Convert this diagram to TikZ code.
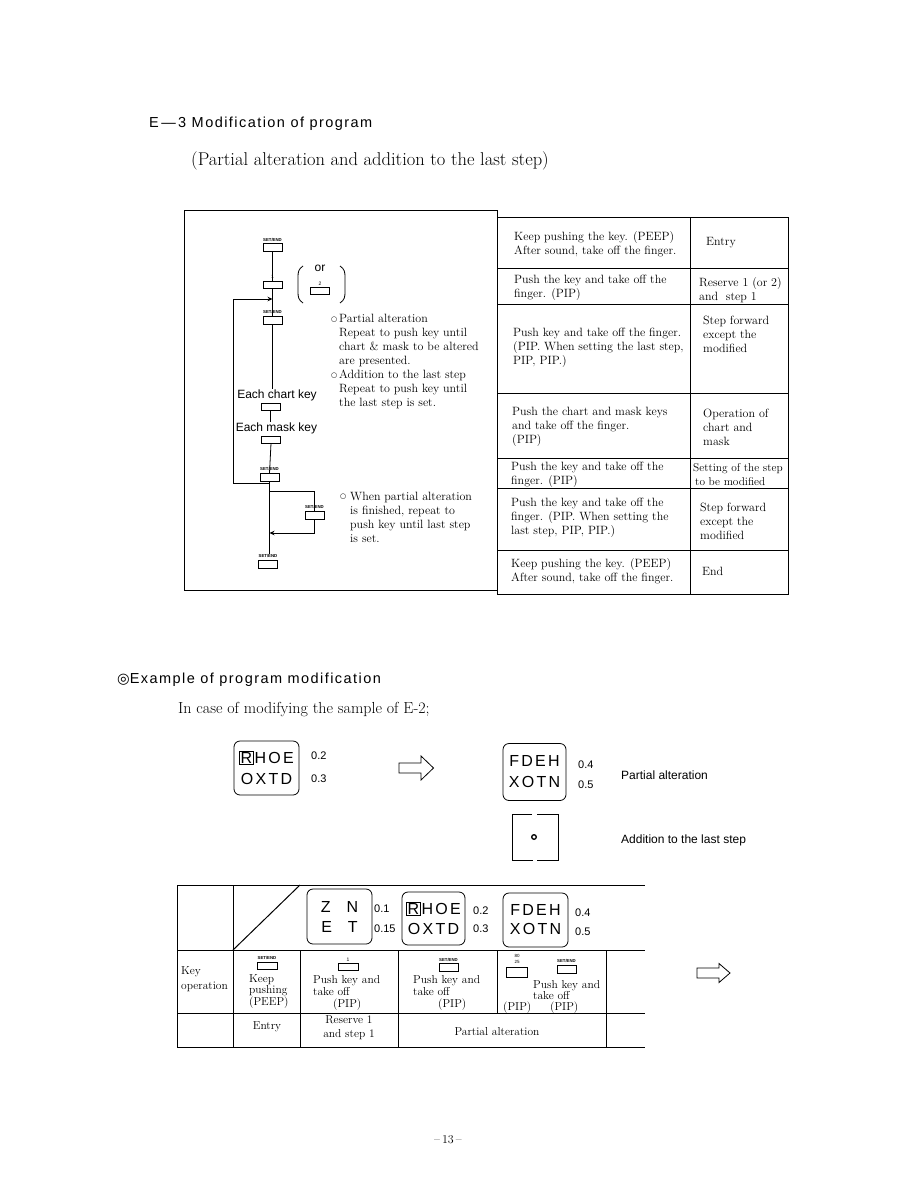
\documentclass[tikz,border=0pt]{standalone}
\usepackage{fontspec}
\usetikzlibrary{arrows.meta}
\newfontfamily\sansf{Liberation Sans}
\newfontfamily\headf[LetterSpace=10]{Liberation Sans}
\newfontfamily\dispf[LetterSpace=14]{Liberation Sans}
\newfontfamily\djv{DejaVu Sans}
\newcommand\rbx{{\setlength\fboxsep{0.8pt}\setlength\fboxrule{0.7pt}\fbox{\sansf R}}\kern1pt}
\newcommand\opc{\raisebox{1.2pt}{\djv\fontsize{7}{7}\selectfont ○}}
\tikzset{
  tbl/.style={line width=1pt},
  conn/.style={line width=0.8pt},
  arr/.style={conn, -{Stealth[length=5pt,width=4.5pt]}},
  keyb/.style={draw, line width=0.7pt, minimum width=19pt, minimum height=8pt, inner sep=0pt},
  klab/.style={font=\sansf\bfseries\fontsize{4.3}{5}\selectfont, inner sep=0pt},
  cell/.style={font=\fontsize{12}{14}\selectfont, align=left, anchor=west, inner sep=0pt},
  tcell/.style={font=\fontsize{11.5}{11.8}\selectfont, align=left, anchor=west, inner sep=0pt},
  flowlbl/.style={font=\sansf\fontsize{12}{14}\selectfont, inner sep=0pt},
  slbl/.style={font=\sansf\fontsize{12}{14}\selectfont, inner sep=0pt, anchor=west},
  disp/.style={draw, line width=0.8pt, rounded corners=6pt, inner sep=0pt, align=center,
               font=\dispf\fontsize{16}{21}\selectfont},
  num/.style={font=\sansf\fontsize{11}{13}\selectfont, anchor=west, inner sep=0pt},
}
\begin{document}
\begin{tikzpicture}[x=1pt,y=-1pt]
\fill[white] (0,0) rectangle (918,1188);
\useasboundingbox (0,0) rectangle (918,1188);

% ---------- headings ----------
\node[anchor=west, font=\headf\fontsize{14.5}{17}\selectfont, inner sep=0pt] (h1) at (149,124) {E\,—\,3 Modification of program};
\node[anchor=west, font=\fontsize{18.5}{22}\selectfont, inner sep=0pt] (h2) at (191,161) {(Partial alteration and addition to the last step)};

% ---------- frames ----------
\draw[tbl] (184,210) rectangle (497,590);
\draw[tbl] (497,217) rectangle (788,594);
\draw[tbl] (690,217) -- (690,594);
\foreach \yy in {268,304,393,458,488,550} \draw[tbl] (497,\yy) -- (788,\yy);

% ---------- flowchart ----------
\node[keyb] (k1) at (272.5,247) {};
\node[klab] (k1l) at (272.5,239.5) {SET/END};
\node[keyb, minimum height=7pt] (k2) at (272.5,284.5) {};
\node[klab, font=\sansf\fontsize{5}{5}\selectfont] (k2l) at (272.5,277) {1};
\node[flowlbl] (or) at (320,268) {or};
\node[keyb, minimum height=7pt] (k2b) at (320,291) {};
\node[klab, font=\sansf\fontsize{5}{5}\selectfont] (k2bl) at (320,284) {2};
\draw[conn] (303,266) .. controls (298.5,269) and (298,272) .. (298,277) -- (298,292) .. controls (298,297) and (298.5,300) .. (303,303);
\draw[conn] (340,266) .. controls (344.5,269) and (345,272) .. (345,277) -- (345,292) .. controls (345,297) and (344.5,300) .. (340,303);
\node[keyb] (k3) at (272.5,320.5) {};
\node[klab] (k3l) at (272.5,312) {SET/END};
\node[flowlbl] (ck) at (277,395) {Each chart key};
\node[keyb, minimum height=7pt] (k4) at (270.5,406.5) {};
\node[flowlbl] (mk) at (276.5,428) {Each mask key};
\node[keyb, minimum height=7pt] (k5) at (271,439.5) {};
\node[keyb] (k6) at (269.5,477.5) {};
\node[klab] (k6l) at (269.5,469) {SET/END};
\node[keyb] (k7) at (314.5,515) {};
\node[klab] (k7l) at (314.5,506.5) {SET/END};
\node[keyb] (k8) at (268,564) {};
\node[klab] (k8l) at (268,555.5) {SET/END};

\coordinate (j1) at (272.5,299);
\coordinate (lp) at (233,483);
\coordinate (j2) at (269.5,491);
\coordinate (j3) at (269.5,533);
\draw[conn] (k1.south) -- (k2.north);
\draw[conn] (k2.south) -- (k3.north);
\draw[conn] (k3.south) -- (k3.south |- ck.north);
\draw[conn] (k4.south) -- (k4.south |- mk.north);
\draw[conn] (k5.south) -- (k6.north);
\draw[conn] (k6.south) -- (k6.south |- k8l.north);
\draw[arr] (k6.south) |- (lp) |- (j1);
\draw[conn] (j2) -| (k7.north);
\draw[arr] (k7.south) |- (j3);

% ---------- notes ----------
\node[cell] (n1) at (339,361.5) {\llap{\opc\hspace{2pt}}Partial alteration\\
Repeat to push key until\\
chart \& mask to be altered\\
are presented.\\
\llap{\opc\hspace{2pt}}Addition to the last step\\
Repeat to push key until\\
the last step is set.};
\node[cell] (n2) at (350,517) {\llap{\opc\hspace{4pt}}When partial alteration\\
is finished, repeat to\\
push key until last step\\
is set.};

% ---------- right table ----------
\node[cell] (r1a) at (514,244) {Keep pushing the key. (PEEP)\\After sound, take off the finger.};
\node[cell] (r1b) at (706,243) {Entry};
\node[cell] (r2a) at (514,288) {Push the key and take off the\\finger. (PIP)};
\node[cell] (r2b) at (699,290) {Reserve 1 (or 2)\\and\ \ step 1};
\node[cell] (r3a) at (513,348) {Push key and take off the finger.\\(PIP. When setting the last step,\\PIP, PIP.)};
\node[cell] (r3b) at (703,334) {Step forward\\except the\\modified};
\node[cell] (r4a) at (512,426.5) {Push the chart and mask keys\\and take off the finger.\\(PIP)};
\node[cell] (r4b) at (703,427.5) {Operation of\\chart and\\mask};
\node[cell] (r5a) at (511,475) {Push the key and take off the\\finger. (PIP)};
\node[cell, font=\fontsize{11.3}{14}\selectfont] (r5b) at (693,475) {Setting of the step\\\hspace*{2pt}to be modified};
\node[cell] (r6a) at (511,518) {Push the key and take off the\\finger. (PIP. When setting the\\last step, PIP, PIP.)};
\node[cell] (r6b) at (700,521) {Step forward\\except the\\modified};
\node[cell] (r7a) at (511,571) {Keep pushing the key. (PEEP)\\After sound, take off the finger.};
\node[cell] (r7b) at (702,571) {End};

% ---------- example ----------
\node[anchor=west, font=\headf\fontsize{14.5}{17}\selectfont, inner sep=0pt] (h3) at (117,680) {{\djv ◎}Example of program modification};
\node[anchor=west, font=\fontsize{16}{19}\selectfont, inner sep=0pt] (h4) at (178,710) {In case of modifying the sample of E-2;};

\node[disp, minimum width=65pt, minimum height=54pt] (d1) at (266.5,768) {\rbx HOE\\OXTD};
\node[num] (d1a) at (311,756) {0.2};
\node[num] (d1b) at (311,779) {0.3};
\draw[line width=0.8pt] (399,763) -- (421,763) -- (421,756) -- (433.5,768) -- (421,780) -- (421,773) -- (399,773) -- cycle;
\node[disp, minimum width=63pt, minimum height=57pt] (d2) at (534.5,772) {FDEH\\XOTN};
\node[num] (d2a) at (578,765) {0.4};
\node[num] (d2b) at (578,785) {0.5};
\node[slbl] (pa) at (621,775) {Partial alteration};
\draw[line width=1pt] (532,814) -- (512,814) -- (512,860) -- (533,860);
\draw[line width=1pt] (537,814) -- (558,814) -- (558,860) -- (537,860);
\draw[line width=1.3pt] (534,837) circle[radius=2.3pt];
\node[slbl] (al) at (621,840) {Addition to the last step};

% ---------- bottom table ----------
\foreach \yy in {885,950,1013,1047} \draw[tbl] (177,\yy) -- (645,\yy);
\draw[tbl] (177,885) -- (177,1047);
\draw[tbl] (233,885) -- (233,1047);
\draw[tbl] (300,950) -- (300,1047);
\draw[tbl] (398,950) -- (398,1047);
\draw[tbl] (497,950) -- (497,1013);
\draw[tbl] (606,950) -- (606,1047);
\draw[tbl] (233,950) -- (300,885);

\node[disp, font=\sansf\fontsize{16}{20}\selectfont, minimum width=65pt, minimum height=55pt] (t1) at (339.5,916.5) {Z\hspace{16pt}N\\E\hspace{16pt}T};
\node[num] (t1a) at (374,909) {0.1};
\node[num] (t1b) at (374,929) {0.15};
\node[disp, font=\dispf\fontsize{16}{20}\selectfont, minimum width=63pt, minimum height=53pt] (t2) at (433.5,918.5) {\rbx HOE\\OXTD};
\node[num] (t2a) at (473,911) {0.2};
\node[num] (t2b) at (473,929) {0.3};
\node[disp, font=\dispf\fontsize{16}{19}\selectfont, minimum width=65pt, minimum height=54pt] (t3) at (535.5,920) {FDEH\\XOTN};
\node[num] (t3a) at (575,913) {0.4};
\node[num] (t3b) at (575,932) {0.5};

\node[tcell, font=\fontsize{11.5}{15}\selectfont] (b1) at (181,979.5) {Key\\operation};
\node[keyb, minimum height=7pt, minimum width=20pt] (kb1) at (267,965.5) {};
\node[klab] (kb1l) at (267,957.5) {SET/END};
\node[tcell] (b2) at (249,991.5) {Keep\\pushing\\(PEEP)};
\node[keyb, minimum height=7pt, minimum width=20pt] (kb2) at (348,966.5) {};
\node[klab, font=\sansf\fontsize{5}{5}\selectfont] (kb2l) at (348,959.5) {1};
\node[tcell] (b3) at (313,993) {Push key and\\take off\\\hspace*{20pt}(PIP)};
\node[keyb] (kb3) at (448.5,967) {};
\node[klab] (kb3l) at (448.5,959.5) {SET/END};
\node[tcell] (b4) at (413,993) {Push key and\\take off\\\hspace*{25pt}(PIP)};
\node[keyb, minimum height=10pt, minimum width=21pt] (kb4) at (516.5,972) {};
\node[klab, font=\sansf\fontsize{4.5}{5}\selectfont] (kb4l) at (517,955.5) {80};
\node[klab, font=\sansf\fontsize{4.5}{5}\selectfont] (kb4m) at (517,962) {25};
\node[keyb] (kb5) at (566.5,969) {};
\node[klab] (kb5l) at (566.5,961) {SET/END};
\node[tcell] (b5) at (533,990) {Push key and\\take off};
\node[tcell] (b6) at (503,1008) {(PIP)};
\node[tcell] (b7) at (550,1008) {(PIP)};

\node[font=\fontsize{11.5}{14}\selectfont, inner sep=0pt] (c1) at (267,1027) {Entry};
\node[font=\fontsize{11.5}{14}\selectfont, inner sep=0pt, align=center] (c2) at (349,1028) {Reserve 1\\and step 1};
\node[font=\fontsize{11.5}{14}\selectfont, inner sep=0pt] (c3) at (497,1032) {Partial alteration};

\draw[line width=0.8pt] (697,968) -- (719,968) -- (719,963.5) -- (730,973) -- (719,982.5) -- (719,978) -- (697,978) -- cycle;

\node[font=\fontsize{12}{14}\selectfont, inner sep=0pt] (pg) at (448,1140) {–\kern2pt13\kern2pt–};
\end{tikzpicture}
\end{document}
